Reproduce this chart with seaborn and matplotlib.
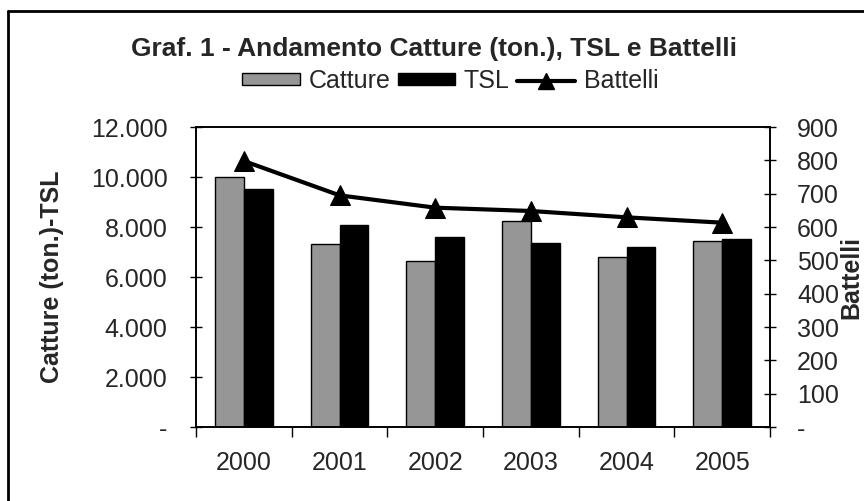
import matplotlib
matplotlib.use("Agg")
import matplotlib.pyplot as plt
import matplotlib.ticker as mticker
from matplotlib.lines import Line2D
from matplotlib.patches import Patch
import numpy as np
import pandas as pd
import seaborn as sns

years = ["2000", "2001", "2002", "2003", "2004", "2005"]
catture = [10000, 7330, 6630, 8240, 6790, 7440]
tsl = [9520, 8080, 7600, 7360, 7200, 7530]
battelli = [798, 695, 658, 648, 629, 613]

df = pd.DataFrame({
    "anno": years * 2,
    "valore": catture + tsl,
    "serie": ["Catture"] * len(years) + ["TSL"] * len(years),
})

sns.set_theme(style="white")
plt.rcParams["font.family"] = ["Liberation Sans", "DejaVu Sans"]
FS = 18

fig = plt.figure(figsize=(8.64, 5.01), dpi=100)
ax = fig.add_axes([0.2269, 0.1477, 0.6643, 0.5988])

sns.barplot(data=df, x="anno", y="valore", hue="serie",
            palette={"Catture": "#969696", "TSL": "#000000"},
            width=0.6, edgecolor="black", linewidth=1, ax=ax, legend=False)

ax2 = ax.twinx()
sns.lineplot(x=np.arange(len(years)), y=battelli, ax=ax2, color="black",
             linewidth=3, marker="^", markersize=15, markeredgecolor="black")

def fmt_thousands(v, pos):
    if v == 0:
        return "-"
    return f"{int(v):,}".replace(",", ".")

ax.set_ylim(0, 12000)
ax.set_yticks(np.arange(0, 12001, 2000))
ax.yaxis.set_major_formatter(mticker.FuncFormatter(fmt_thousands))
ax.set_xlim(-0.5, 5.5)
ax.set_xticks(range(len(years)))
ax.set_xticklabels(years)
ax.set_xticks(np.arange(-0.5, 5.6, 1), minor=True)
ax.tick_params(axis="x", which="major", length=0, pad=17, labelsize=FS)
ax.tick_params(axis="x", which="minor", direction="out", length=7, width=1,
               color="black", bottom=True)
ax.tick_params(axis="y", direction="inout", length=9, width=1, color="black",
               left=True, labelsize=FS, pad=16)
ax.set_xlabel("")
ax.set_ylabel("Catture (ton.)-TSL", fontsize=FS, fontweight="bold", labelpad=19)

ax2.set_ylim(0, 900)
ax2.set_yticks(np.arange(0, 901, 100))
ax2.yaxis.set_major_formatter(mticker.FuncFormatter(fmt_thousands))
ax2.tick_params(axis="y", direction="inout", length=9, width=1, color="black",
                right=True, labelsize=FS, pad=15)
ax2.set_ylabel("Battelli", fontsize=FS, fontweight="bold", labelpad=0)

for a in (ax, ax2):
    for s in a.spines.values():
        s.set_color("black")
        s.set_linewidth(1.2)

fig.text(0.502, 0.903, "Graf. 1 - Andamento Catture (ton.), TSL e Battelli",
         ha="center", va="center", fontsize=19, fontweight="bold")

handles = [
    Patch(facecolor="#969696", edgecolor="black", linewidth=1, label="Catture"),
    Patch(facecolor="black", edgecolor="black", label="TSL"),
    Line2D([0], [0], color="black", linewidth=3, marker="^", markersize=12,
           label="Battelli"),
]
fig.legend(handles=handles, loc="center", bbox_to_anchor=(0.521, 0.838), ncol=3,
           frameon=False, fontsize=FS, handlelength=2.3, handleheight=0.35,
           handletextpad=0.35, columnspacing=0.3)

# outer frame of the original chart box
fig.add_artist(Line2D([0.009, 0.009], [0.0, 0.978], color="black", linewidth=2,
                      transform=fig.transFigure))
fig.add_artist(Line2D([0.009, 1.0], [0.978, 0.978], color="black", linewidth=2,
                      transform=fig.transFigure))

fig.savefig("out.png", dpi=100, facecolor="white")
